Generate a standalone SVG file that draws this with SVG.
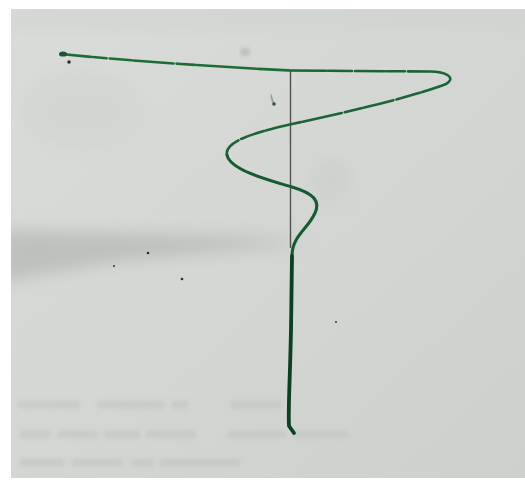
<svg xmlns="http://www.w3.org/2000/svg" width="525" height="482" viewBox="0 0 525 482">
  <defs>
    <linearGradient id="paper" x1="0" y1="0" x2="1" y2="1">
      <stop offset="0" stop-color="#d9dcd8"/>
      <stop offset="0.5" stop-color="#d3d6d2"/>
      <stop offset="1" stop-color="#cdd1cd"/>
    </linearGradient>
    <clipPath id="paperClip">
      <rect x="11" y="9" width="514" height="469"/>
    </clipPath>
    <filter id="blur8" x="-20%" y="-50%" width="140%" height="200%">
      <feGaussianBlur stdDeviation="8"/>
    </filter>
    <filter id="blur2" x="-10%" y="-50%" width="120%" height="200%">
      <feGaussianBlur stdDeviation="2.2"/>
    </filter>
    <filter id="soft" x="-5%" y="-5%" width="110%" height="110%">
      <feGaussianBlur stdDeviation="0.5"/>
    </filter>
    <style>
      .ink { fill: none; stroke-linecap: round; stroke-linejoin: round; }
      .dot { fill: #2a2e2a; }
      .bleed { fill: #a9aea9; opacity: 0.28; }
    </style>
  </defs>

  <rect x="0" y="0" width="525" height="482" fill="#ffffff"/>
  <rect x="11" y="9" width="514" height="469" fill="url(#paper)"/>

  <!-- shading on the paper -->
  <g id="shading" clip-path="url(#paperClip)">
    <path d="M0,230 L240,237 L310,242 L240,249 L120,261 L0,282 Z" fill="#a9aea9" opacity="0.55" filter="url(#blur8)"/>
    <ellipse cx="80" cy="110" rx="60" ry="40" fill="#c9cdc9" opacity="0.3" filter="url(#blur8)"/>
    <ellipse cx="245" cy="52" rx="5" ry="4" fill="#b3b8b3" opacity="0.8" filter="url(#blur2)"/>
    <ellipse cx="330" cy="180" rx="20" ry="25" fill="#c6cac6" opacity="0.35" filter="url(#blur8)"/>
    <rect x="11" y="9" width="514" height="20" fill="#c8ccc8" opacity="0.35" filter="url(#blur8)"/>
  </g>

  <!-- faint show-through from the reverse side -->
  <g id="showthrough" filter="url(#blur2)">
    <rect class="bleed" x="18" y="401" width="62" height="7"/>
    <rect class="bleed" x="98" y="401" width="66" height="7"/>
    <rect class="bleed" x="172" y="401" width="16" height="7"/>
    <rect class="bleed" x="230" y="401" width="52" height="7"/>
    <rect class="bleed" x="20" y="431" width="30" height="7"/>
    <rect class="bleed" x="58" y="431" width="40" height="7"/>
    <rect class="bleed" x="104" y="431" width="36" height="7"/>
    <rect class="bleed" x="146" y="431" width="50" height="7"/>
    <rect class="bleed" x="228" y="431" width="58" height="7"/>
    <rect class="bleed" x="292" y="431" width="56" height="7"/>
    <rect class="bleed" x="20" y="459" width="44" height="7"/>
    <rect class="bleed" x="72" y="459" width="50" height="7"/>
    <rect class="bleed" x="132" y="459" width="22" height="7"/>
    <rect class="bleed" x="160" y="459" width="80" height="7"/>
  </g>

  <!-- pencil vertical line -->
  <g id="pencil-line">
    <line x1="290.5" y1="71" x2="290.5" y2="248" stroke="#4f524f" stroke-width="1.4"/>
  </g>

  <!-- green ink stroke -->
  <g id="green-stroke" filter="url(#soft)">
    <path class="ink" d="M61,54 C130,61 220,67 290,70.5" stroke="#1f6c36" stroke-width="2.6" stroke-dasharray="30 2 14 3 22 2 40 3 18 2 60 2"/>
    <path class="ink" d="M290,70.5 L430,71.5 C450,72 455,79 446,84 C410,98 330,116 292,124 C252,133 224,142 227,155" stroke="#1b6434" stroke-width="2.6" stroke-dasharray="36 2 24 3 30 2 18 3 40 2"/>
    <path class="ink" d="M227,155 C230,170 268,180 292,187 C312,193 321,200 315,213 C308,229 292,236 292,256" stroke="#145a30" stroke-width="3"/>
    <path class="ink" d="M292,256 L291,330 C290,380 288,410 289,426 L294,433" stroke="#0c3f22" stroke-width="3.8"/>
    <ellipse cx="63" cy="54" rx="4" ry="2.6" fill="#1a5530"/>
  </g>

  <!-- specks -->
  <g id="specks">
    <circle class="dot" cx="69" cy="62" r="1.8"/>
    <circle class="dot" cx="148" cy="253" r="1.3"/>
    <circle class="dot" cx="114" cy="266" r="1"/>
    <circle class="dot" cx="182" cy="279" r="1.3"/>
    <circle class="dot" cx="336" cy="322" r="0.9"/>
    <path d="M271,93 C270,97 271,101 273,103 L275,105 L273,99 Z" fill="#6f8a78" opacity="0.7"/>
    <circle cx="274" cy="104" r="1.8" fill="#2f4f3b"/>
  </g>
</svg>
